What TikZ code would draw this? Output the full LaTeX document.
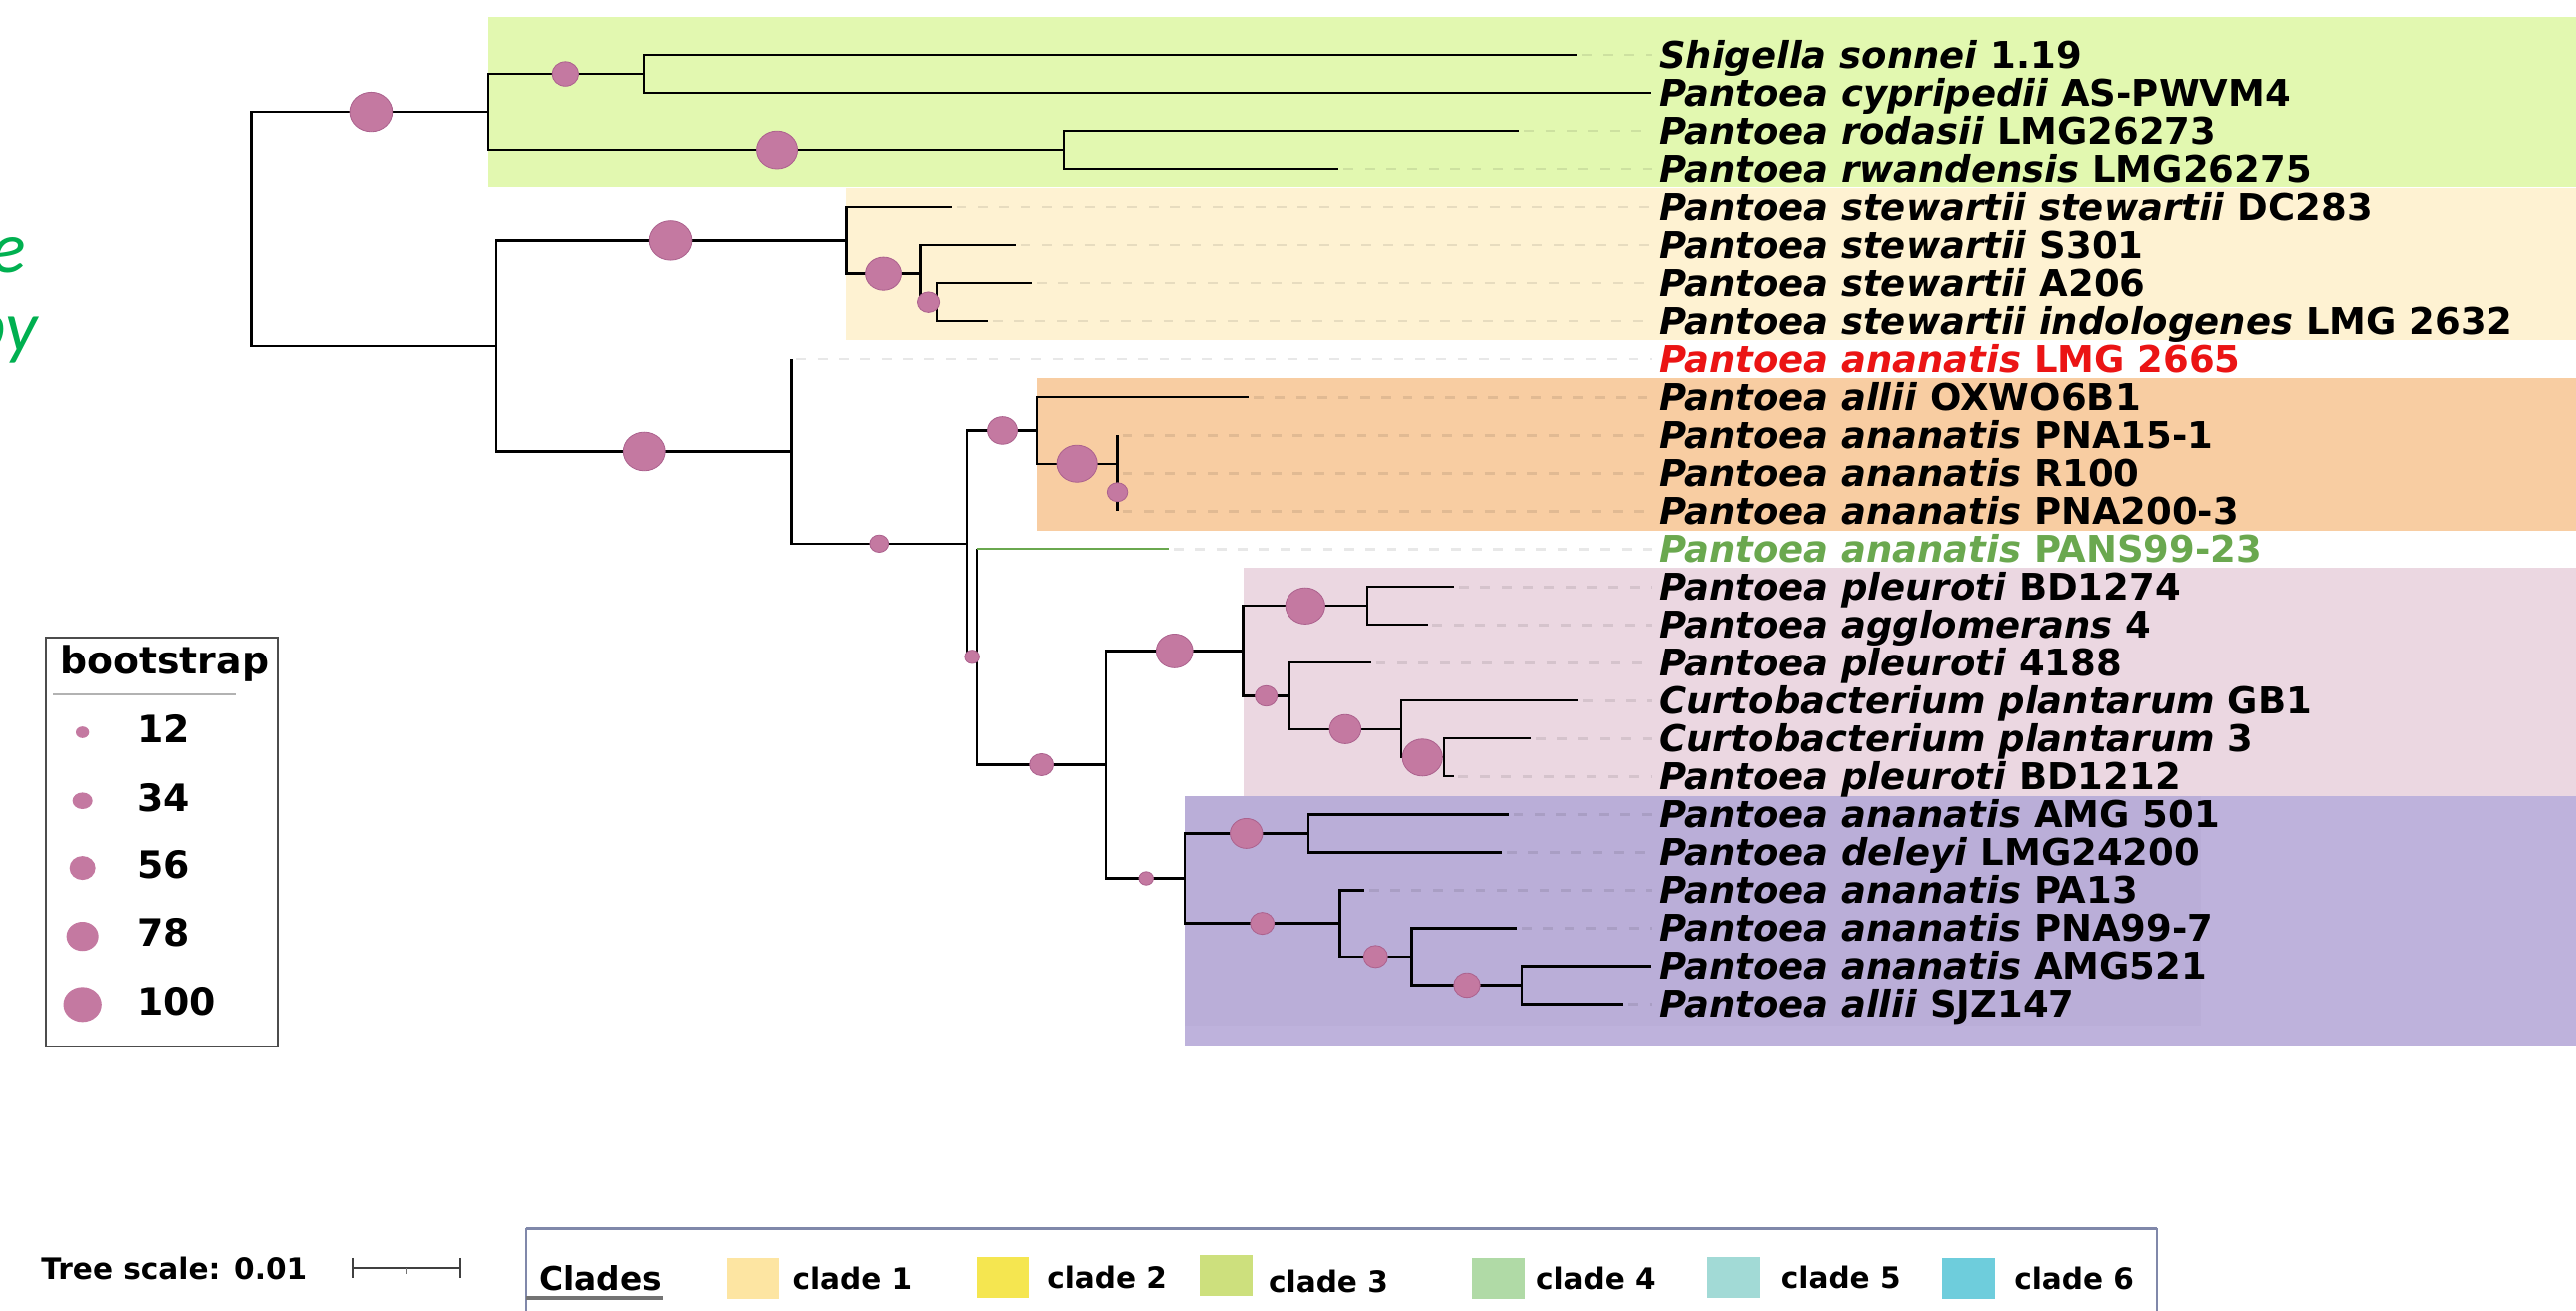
\documentclass[tikz,border=0pt]{standalone}
\usepackage{fontspec}
\usetikzlibrary{shapes.geometric,calc}
\newfontfamily\labfont{DejaVu Sans}[BoldFont={DejaVu Sans Bold},ItalicFont={DejaVu Sans Oblique},BoldItalicFont={DejaVu Sans Bold Oblique}]
\newfontfamily\sidefont{Carlito}[ItalicFont={Carlito Italic}]
\definecolor{bsfill}{RGB}{196,121,161}
\definecolor{bsdraw}{RGB}{172,98,142}
\definecolor{cgreen}{RGB}{226,248,176}
\definecolor{cbeige}{RGB}{254,242,210}
\definecolor{corange}{RGB}{248,205,162}
\definecolor{cpink}{RGB}{235,215,225}
\definecolor{cpurple}{RGB}{190,178,220}
\definecolor{cpurpleb}{RGB}{186,174,216}
\definecolor{labred}{RGB}{235,20,20}
\definecolor{labgreen}{RGB}{106,168,79}
\definecolor{sidegreen}{RGB}{0,176,80}
\definecolor{swa}{RGB}{253,229,162}
\definecolor{swb}{RGB}{245,230,80}
\definecolor{swc}{RGB}{205,224,125}
\definecolor{swd}{RGB}{176,218,166}
\definecolor{swe}{RGB}{162,218,214}
\definecolor{swf}{RGB}{110,205,220}
\definecolor{boxblue}{RGB}{128,136,170}
\newcommand\lbltext[2]{\textit{#1} #2}
\tikzset{
  br/.style={line width=1.4pt, black},
  leader/.style={line width=1.6pt, black, opacity=0.09, dash pattern=on 6pt off 7pt, shorten <=3pt, shorten >=4pt},
  bs/.style={ellipse, fill=bsfill, draw=bsdraw, line width=0.5pt, inner sep=0pt, minimum width={#1*1.04pt}, minimum height={#1*0.96pt}},
  lgbs/.style 2 args={ellipse, fill=bsfill, draw=none, inner sep=0pt, minimum width=#1pt, minimum height=#2pt},
  lab/.style={anchor=base west, inner sep=0pt, font=\labfont\fontsize{22.5}{26}\selectfont\bfseries},
  lgtext/.style={anchor=base west, inner sep=0pt, font=\labfont\fontsize{23}{26}\selectfont\bfseries},
  cltext/.style={anchor=base west, inner sep=0pt, font=\labfont\fontsize{18}{20}\selectfont\bfseries},
  swatch/.style={fill=#1, draw=none, minimum width=32pt, minimum height=25pt, inner sep=0pt, anchor=north west},
}
\begin{document}
\begin{tikzpicture}[x=1pt,y=-1pt]
\useasboundingbox (0,0) rectangle (1568,798);
\fill[white] (0,0) rectangle (1568,798);
\clip (0,0) rectangle (1568,798);
% clade backgrounds
\fill[cgreen] (297,10.1) rectangle (1568,114);
\fill[cbeige] (515,114.6) rectangle (1568,206.9);
\fill[corange] (631,230) rectangle (1568,323);
\fill[cpink] (756.7,345.6) rectangle (1568,484.7);
\fill[cpurple] (721,484.8) rectangle (1568,636.9);
\fill[cpurpleb] (721,484.8) rectangle (1340,625);
% side text fragments
\node[anchor=base east, inner sep=0pt, text=sidegreen, font=\sidefont\itshape\fontsize{44}{48}\selectfont] (sidee) at (16,166) {e};
\node[anchor=base east, inner sep=0pt, text=sidegreen, font=\sidefont\itshape\fontsize{44}{48}\selectfont] (sidepy) at (23,214) {py};
% internal nodes
\coordinate (R) at (153,139.35);
\coordinate (A) at (297,68.2);
\coordinate (A1) at (391.7,45.07);
\coordinate (A2) at (647.5,91.33);
\coordinate (B) at (302,210.5);
\coordinate (S) at (515,146.26);
\coordinate (S2) at (560,166.5);
\coordinate (S3) at (570,183.85);
\coordinate (C) at (481.5,274.7);
\coordinate (D) at (588.4,330.9);
\coordinate (E) at (631,261.9);
\coordinate (H) at (680,282.15);
\coordinate (I) at (680,299.5);
\coordinate (F) at (594.3,399.97);
\coordinate (G) at (673,465.75);
\coordinate (K) at (756.7,396.35);
\coordinate (K1) at (832.4,368.9);
\coordinate (K2) at (784.7,423.8);
\coordinate (L) at (853.1,444.06);
\coordinate (M) at (879,461.4);
\coordinate (J) at (721,535.15);
\coordinate (J1) at (796.6,507.7);
\coordinate (J2) at (815.6,562.6);
\coordinate (N) at (859.5,582.8);
\coordinate (O) at (926.7,600.2);
% leaf tips
\coordinate (t0) at (960,33.5);
\coordinate (t1) at (1005,56.63);
\coordinate (t2) at (925,79.76);
\coordinate (t3) at (815,102.89);
\coordinate (t4) at (579,126.02);
\coordinate (t5) at (618,149.15);
\coordinate (t6) at (628,172.28);
\coordinate (t7) at (601,195.41);
\coordinate (t8) at (481.5,218.54);
\coordinate (t9) at (760,241.67);
\coordinate (t10) at (680,264.8);
\coordinate (t11) at (680,287.93);
\coordinate (t12) at (680,311.06);
\coordinate (t13) at (711.3,334.19);
\coordinate (t14) at (885.3,357.32);
\coordinate (t15) at (869.2,380.45);
\coordinate (t16) at (834.6,403.58);
\coordinate (t17) at (961,426.71);
\coordinate (t18) at (932,449.84);
\coordinate (t19) at (885,472.97);
\coordinate (t20) at (918.5,496.1);
\coordinate (t21) at (914.6,519.23);
\coordinate (t22) at (830.4,542.36);
\coordinate (t23) at (923.6,565.49);
\coordinate (t24) at (1005,588.62);
\coordinate (t25) at (988.4,611.75);
% labels
\node[lab] (l0) at (1010,41.5) {\lbltext{Shigella sonnei}{1.19}};
\node[lab] (l1) at (1010,64.63) {\lbltext{Pantoea cypripedii}{AS-PWVM4}};
\node[lab] (l2) at (1010,87.76) {\lbltext{Pantoea rodasii}{LMG26273}};
\node[lab] (l3) at (1010,110.89) {\lbltext{Pantoea rwandensis}{LMG26275}};
\node[lab] (l4) at (1010,134.02) {\lbltext{Pantoea stewartii stewartii}{DC283}};
\node[lab] (l5) at (1010,157.15) {\lbltext{Pantoea stewartii}{S301}};
\node[lab] (l6) at (1010,180.28) {\lbltext{Pantoea stewartii}{A206}};
\node[lab] (l7) at (1010,203.41) {\lbltext{Pantoea stewartii indologenes}{LMG 2632}};
\node[lab, text=labred] (l8) at (1010,226.54) {\lbltext{Pantoea ananatis}{LMG 2665}};
\node[lab] (l9) at (1010,249.67) {\lbltext{Pantoea allii}{OXWO6B1}};
\node[lab] (l10) at (1010,272.8) {\lbltext{Pantoea ananatis}{PNA15-1}};
\node[lab] (l11) at (1010,295.93) {\lbltext{Pantoea ananatis}{R100}};
\node[lab] (l12) at (1010,319.06) {\lbltext{Pantoea ananatis}{PNA200-3}};
\node[lab, text=labgreen] (l13) at (1010,342.19) {\lbltext{Pantoea ananatis}{PANS99-23}};
\node[lab] (l14) at (1010,365.32) {\lbltext{Pantoea pleuroti}{BD1274}};
\node[lab] (l15) at (1010,388.45) {\lbltext{Pantoea agglomerans}{4}};
\node[lab] (l16) at (1010,411.58) {\lbltext{Pantoea pleuroti}{4188}};
\node[lab] (l17) at (1010,434.71) {\lbltext{Curtobacterium plantarum}{GB1}};
\node[lab] (l18) at (1010,457.84) {\lbltext{Curtobacterium plantarum}{3}};
\node[lab] (l19) at (1010,480.97) {\lbltext{Pantoea pleuroti}{BD1212}};
\node[lab] (l20) at (1010,504.1) {\lbltext{Pantoea ananatis}{AMG 501}};
\node[lab] (l21) at (1010,527.23) {\lbltext{Pantoea deleyi}{LMG24200}};
\node[lab] (l22) at (1010,550.36) {\lbltext{Pantoea ananatis}{PA13}};
\node[lab] (l23) at (1010,573.49) {\lbltext{Pantoea ananatis}{PNA99-7}};
\node[lab] (l24) at (1010,596.62) {\lbltext{Pantoea ananatis}{AMG521}};
\node[lab] (l25) at (1010,619.75) {\lbltext{Pantoea allii}{SJZ147}};
% leaders
\foreach \i in {0,2,3,4,5,6,7,8,9,10,11,12,13,14,15,16,17,18,19,20,21,22,23,25}
  \draw[leader] (t\i) -- (l\i.west |- t\i);
% branches
\draw[br] (R) |- (A);
\draw[br] (R) |- (B);
\draw[br] (A) |- (A1);
\draw[br] (A) |- (A2);
\draw[br] (A1) |- (t0);
\draw[br] (A1) |- (t1);
\draw[br] (A2) |- (t2);
\draw[br] (A2) |- (t3);
\draw[br] (B) |- (S);
\draw[br] (B) |- (C);
\draw[br] (S) |- (t4);
\draw[br] (S) |- (S2);
\draw[br] (S2) |- (t5);
\draw[br] (S2) |- (S3);
\draw[br] (S3) |- (t6);
\draw[br] (S3) |- (t7);
\draw[br] (C) |- (t8);
\draw[br] (C) |- (D);
\draw[br] (D) |- (E);
\draw[br] (D) |- (F);
\draw[br] (E) |- (t9);
\draw[br] (E) |- (H);
\draw[br] (H) |- (t10);
\draw[br] (H) |- (I);
\draw[br] (I) |- (t11);
\draw[br] (I) |- (t12);
\draw[br] (F) -- (F |- t13);
\draw[line width=1.4pt, labgreen] (F |- t13) -- (t13);
\draw[br] (F) |- (G);
\draw[br] (G) |- (K);
\draw[br] (G) |- (J);
\draw[br] (K) |- (K1);
\draw[br] (K) |- (K2);
\draw[br] (K1) |- (t14);
\draw[br] (K1) |- (t15);
\draw[br] (K2) |- (t16);
\draw[br] (K2) |- (L);
\draw[br] (L) |- (t17);
\draw[br] (L) |- (M);
\draw[br] (M) |- (t18);
\draw[br] (M) |- (t19);
\draw[br] (J) |- (J1);
\draw[br] (J) |- (J2);
\draw[br] (J1) |- (t20);
\draw[br] (J1) |- (t21);
\draw[br] (J2) |- (t22);
\draw[br] (J2) |- (N);
\draw[br] (N) |- (t23);
\draw[br] (N) |- (O);
\draw[br] (O) |- (t24);
\draw[br] (O) |- (t25);
% bootstrap circles
\node[bs=25] (c1) at (226,68.2) {};
\node[bs=15.5] (c2) at (344,45.07) {};
\node[bs=24] (c3) at (472.8,91.33) {};
\node[bs=25] (c4) at (408,146.26) {};
\node[bs=21] (c5) at (537.6,166.5) {};
\node[bs=13] (c6) at (565,183.85) {};
\node[bs=24.5] (c7) at (392,274.7) {};
\node[bs=11] (c8) at (535,330.9) {};
\node[bs=17.5] (c9) at (610,261.9) {};
\node[bs=23.5] (c10) at (655.4,282.15) {};
\node[bs=12] (c11) at (680,299.5) {};
\node[bs=8.5] (c12) at (591.5,399.97) {};
\node[bs=14] (c13) at (633.8,465.75) {};
\node[bs=21.5] (c14) at (714.8,396.35) {};
\node[bs=23] (c15) at (794.5,368.9) {};
\node[bs=13] (c16) at (770.7,423.8) {};
\node[bs=18.5] (c17) at (818.9,444.06) {};
\node[bs=23.5] (c18) at (866,461.4) {};
\node[bs=8.5] (c19) at (697.4,535.15) {};
\node[bs=19] (c20) at (758.6,507.7) {};
\node[bs=14] (c21) at (768.3,562.6) {};
\node[bs=14] (c22) at (837.4,582.8) {};
\node[bs=15.5] (c23) at (893.2,600.2) {};
% bootstrap legend
\node[draw=black!70, line width=0.9pt, minimum width=141.3pt, minimum height=249.3pt, inner sep=0pt, anchor=north west] (bslegend) at (27.4,387.7) {};
\node[lgtext] (bstitle) at (36.5,410.7) {bootstrap};
\draw[black!30, line width=1.2pt] (bslegend.north west) ++(5,35.3) coordinate (bsl1) -- ++(111.2,0) coordinate (bsl2);
\node[lgbs={8.1}{7.1}] (g1) at (50.3,446) {};
\node[lgbs={12.2}{10.1}] (g2) at (50.3,487.8) {};
\node[lgbs={15.8}{14.6}] (g3) at (50.3,528.8) {};
\node[lgbs={19.5}{17.8}] (g4) at (50.3,570.5) {};
\node[lgbs={23.3}{21.3}] (g5) at (50.3,612) {};
\node[lgtext] (n1) at (83.2,452.3) {12};
\node[lgtext] (n2) at (83.2,494.1) {34};
\node[lgtext] (n3) at (83.2,535.1) {56};
\node[lgtext] (n4) at (83.2,576.8) {78};
\node[lgtext] (n5) at (83.2,618.3) {100};
% tree scale
\node[cltext] (tscale) at (25,779) {Tree scale: 0.01};
\coordinate (sba) at (215,772);
\coordinate (sbb) at (280,772);
\draw[black!75, line width=1.3pt] (sba) -- (sbb);
\draw[black!75, line width=1.1pt] (sba) ++(0,-6) -- ++(0,12);
\draw[black!75, line width=1.1pt] (sbb) ++(0,-6) -- ++(0,12);
\draw[black!55, line width=0.8pt] ($(sba)!0.5!(sbb)$) -- ++(0,4);
% clades legend
\coordinate (cbl) at (320,748);
\coordinate (cbr) at (1313,748);
\draw[boxblue, line width=0.8pt] (cbl) -- (cbl |- 0,800);
\draw[boxblue, line width=0.8pt] (cbr) -- (cbr |- 0,800);
\draw[boxblue, line width=2pt] (cbl) -- (cbr);
\node[anchor=base west, inner sep=0pt, font=\labfont\fontsize{20}{22}\selectfont\bfseries] (cladest) at (328,786) {Clades};
\draw[black!55, line width=2pt] (cbl |- 0,790.4) -- (cladest.east |- 0,790.4);
\node[swatch=swa] (s1) at (442,766) {};
\node[swatch=swb] (s2) at (594,765) {};
\node[swatch=swc] (s3) at (730,764) {};
\node[swatch=swd] (s4) at (896,766) {};
\node[swatch=swe] (s5) at (1039,765) {};
\node[swatch=swf] (s6) at (1182,766) {};
\node[cltext] (cl1) at (482,785.5) {clade 1};
\node[cltext] (cl2) at (637,784.5) {clade 2};
\node[cltext] (cl3) at (772,787) {clade 3};
\node[cltext] (cl4) at (935,785.5) {clade 4};
\node[cltext] (cl5) at (1084,784.5) {clade 5};
\node[cltext] (cl6) at (1226,785.5) {clade 6};
\end{tikzpicture}
\end{document}
